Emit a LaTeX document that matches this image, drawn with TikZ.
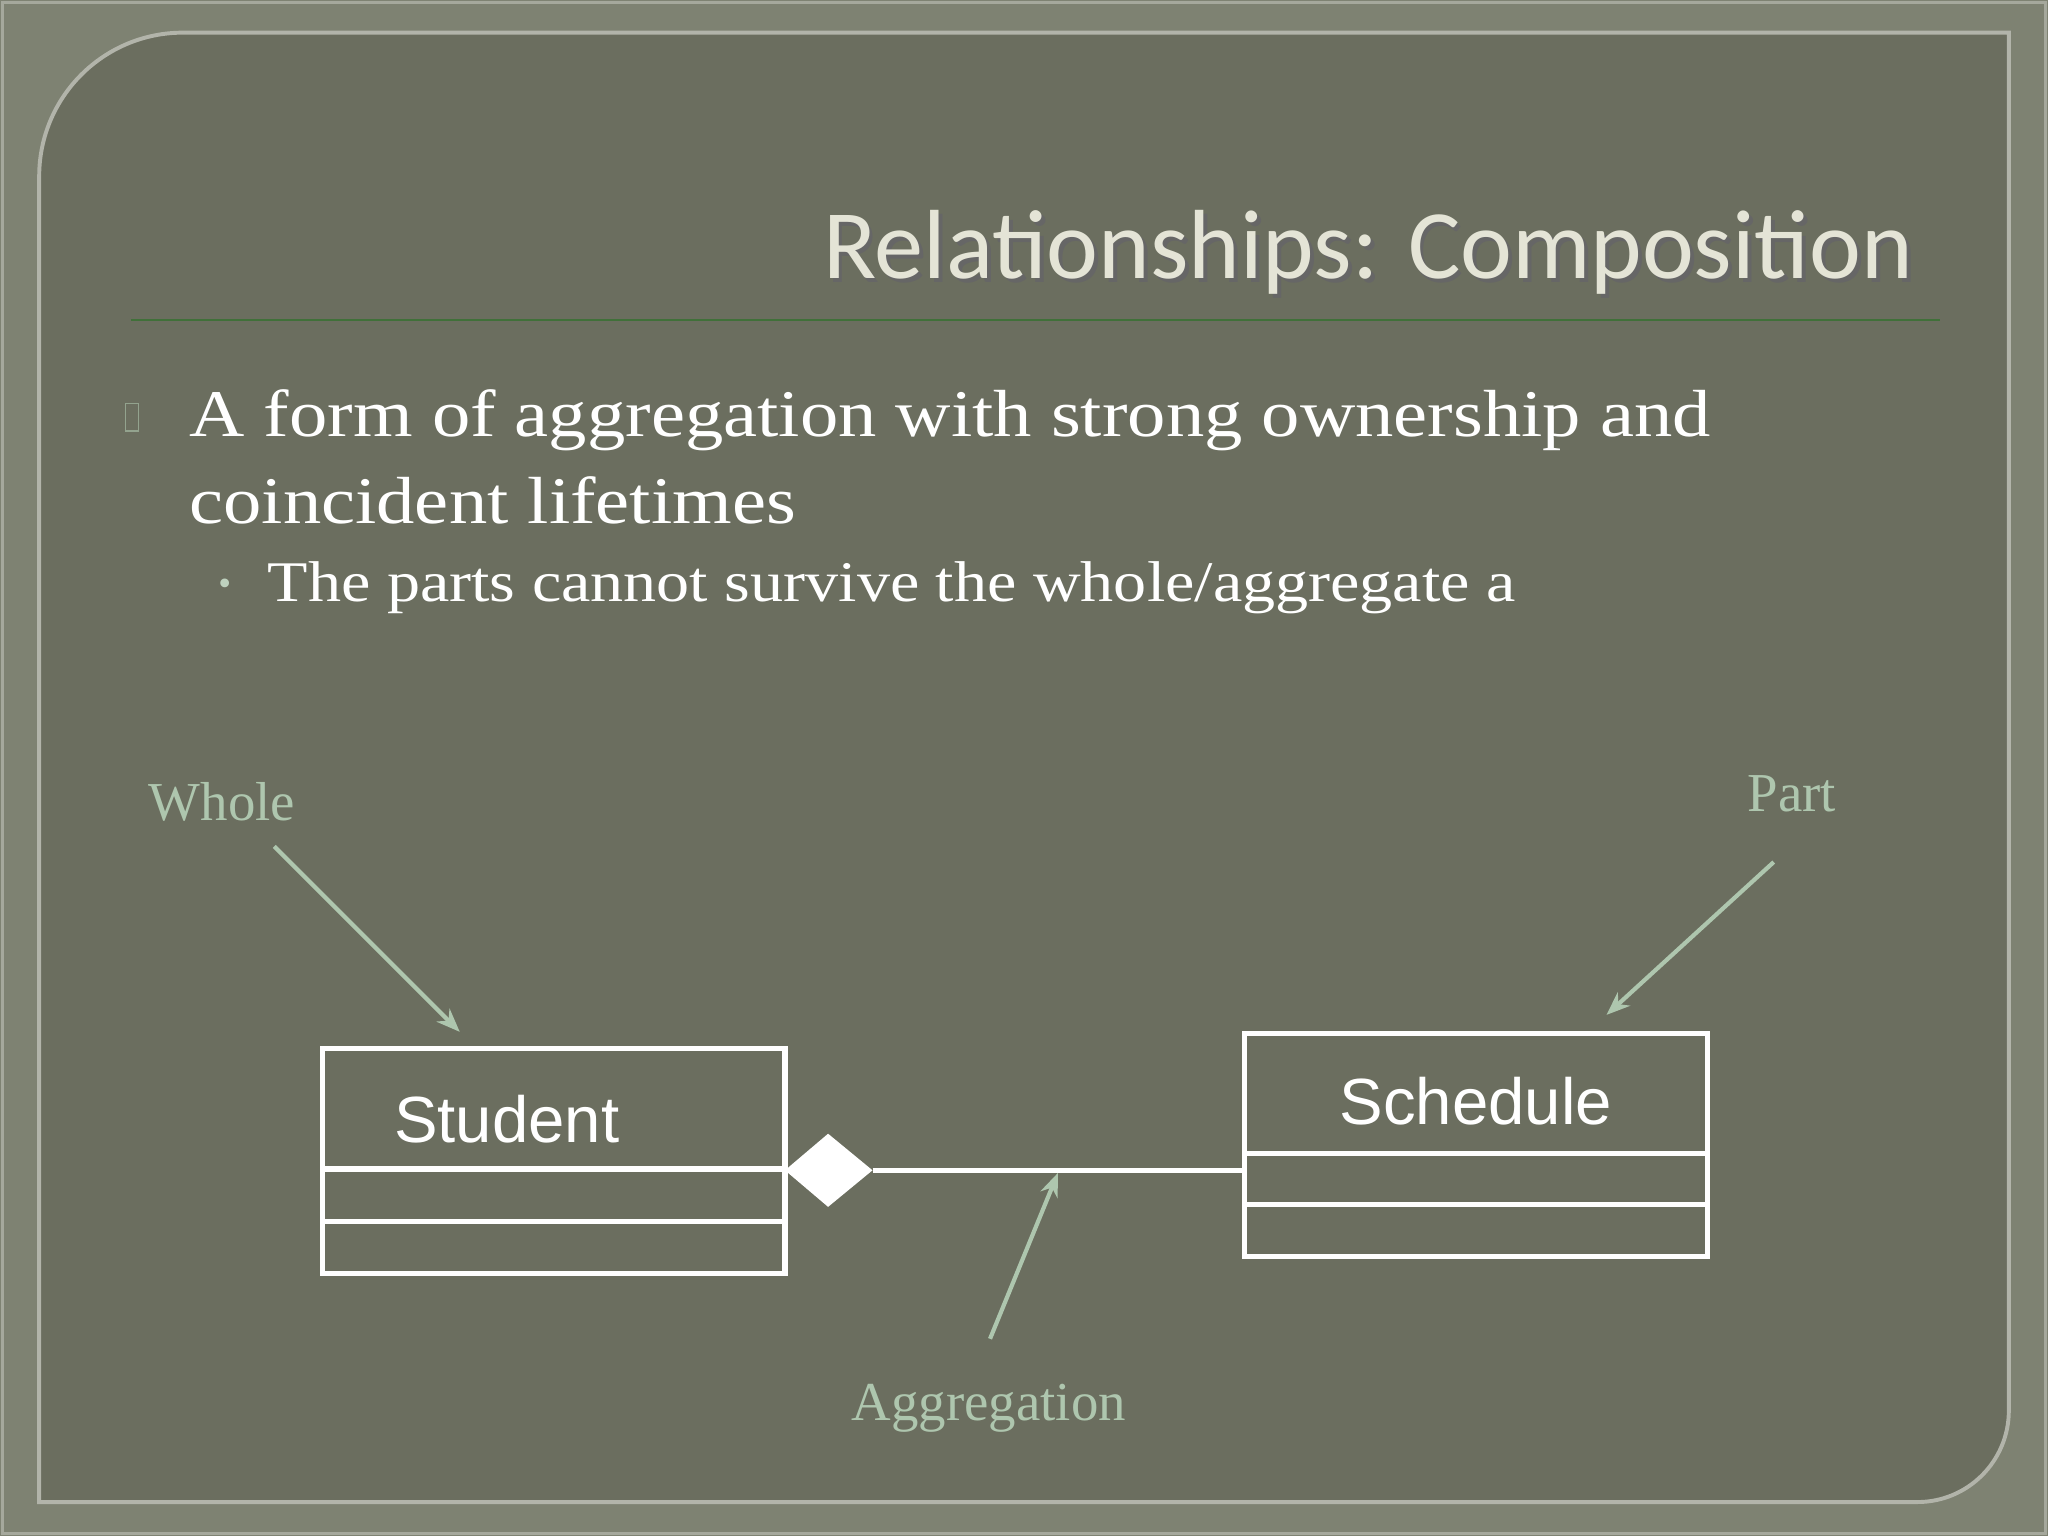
\documentclass[tikz,border=0pt]{standalone}
\usepackage{fontspec}
\setmainfont{Liberation Serif}
\newfontfamily\titlefont{Carlito}
\newfontfamily\boxfont{Liberation Sans}
\newfontfamily\bodyfont[FakeStretch=1.15]{Liberation Serif}
\usetikzlibrary{arrows.meta}
\begin{document}
\begin{tikzpicture}[x=0.5pt,y=-0.5pt,
  lbl/.style={text=lblgreen,font=\fontsize{21}{24}\selectfont},
  ptr/.style={draw=lblgreen,line width=1.6pt,-{Stealth[length=9pt,width=7pt]}},
  umlbox/.style={draw=white,line width=2pt},
  body/.style={text=white,anchor=west,font=\bodyfont\fontsize{25.5}{28}\selectfont}]
\definecolor{outer}{HTML}{7E8272}
\definecolor{panel}{HTML}{6B6E5F}
\definecolor{lblgreen}{HTML}{AEC6AE}
\definecolor{titlec}{HTML}{E4E4D6}
\useasboundingbox (0,0) rectangle (1568,1176);
\fill[outer] (0,0) rectangle (1568,1176);
\draw[outer!70!white,line width=1pt] (2,2) rectangle (1566,1174);
\fill[panel,draw=outer!60!white,line width=1.5pt]
  (30,135) arc[start angle=180,end angle=270,radius=110] -- (1538,25) -- (1538,1080)
  arc[start angle=0,end angle=90,radius=70] -- (30,1150) -- cycle;
% title
\node[anchor=east,text=black!60,font=\titlefont\fontsize{37.6}{42}\selectfont] at (1475,196) {Relationships: Composition};
\node (title) [anchor=east,text=titlec,font=\titlefont\fontsize{37.6}{42}\selectfont] at (1472,193) {Relationships: Composition};
\draw[draw=black!55!green!40!panel,line width=1pt] (100,245) -- (1485,245);
% bullets
\draw[lblgreen!60!panel,line width=0.6pt] (96,309) rectangle (106,330);
\node (b1) [body] at (138,322) {A form of aggregation with strong ownership and};
\node (b2) [body] at (138,383) {coincident lifetimes};
\node (dot) [text=lblgreen!80!white,font=\fontsize{14}{16}\selectfont] at (172,450) {•};
\node (b3) [body,font=\bodyfont\fontsize{22}{24}\selectfont] at (198,450) {The parts cannot survive the whole/aggregate a};
% labels
\node (whole) [lbl] at (170,614) {Whole};
\node (part) [lbl] at (1372,608) {Part};
\node (agg) [lbl] at (757,1078) {Aggregation};
% boxes
\node (student) [umlbox,minimum width=177pt,minimum height=86pt,inner sep=0pt] at (424,889) {};
\draw[umlbox] (247,895) -- (601,895) (247,935) -- (601,935);
\node[text=white,font=\boxfont\fontsize{25}{28}\selectfont] at (388,857) {Student};
\node (sched) [umlbox,minimum width=177pt,minimum height=85.5pt,inner sep=0pt] at (1130,876.5) {};
\draw[umlbox] (953,883) -- (1307,883) (953,922) -- (1307,922);
\node[text=white,font=\boxfont\fontsize{25}{28}\selectfont] at (1130,843) {Schedule};
% composition
\coordinate (dl) at (601,896);
\coordinate (dr) at (668,896);
\fill[white] (dl) -- (634,868) -- (dr) -- (634,924) -- cycle;
\draw[white,line width=2pt] (dr) -- (953,896);
% pointers
\coordinate (w1) at (210,648); \coordinate (w2) at (352,790);
\coordinate (p1) at (1358,660); \coordinate (p2) at (1230,777);
\coordinate (a1) at (758,1025); \coordinate (a2) at (810,898);
\draw[ptr] (w1) -- (w2);
\draw[ptr] (p1) -- (p2);
\draw[ptr] (a1) -- (a2);
\end{tikzpicture}
\end{document}
